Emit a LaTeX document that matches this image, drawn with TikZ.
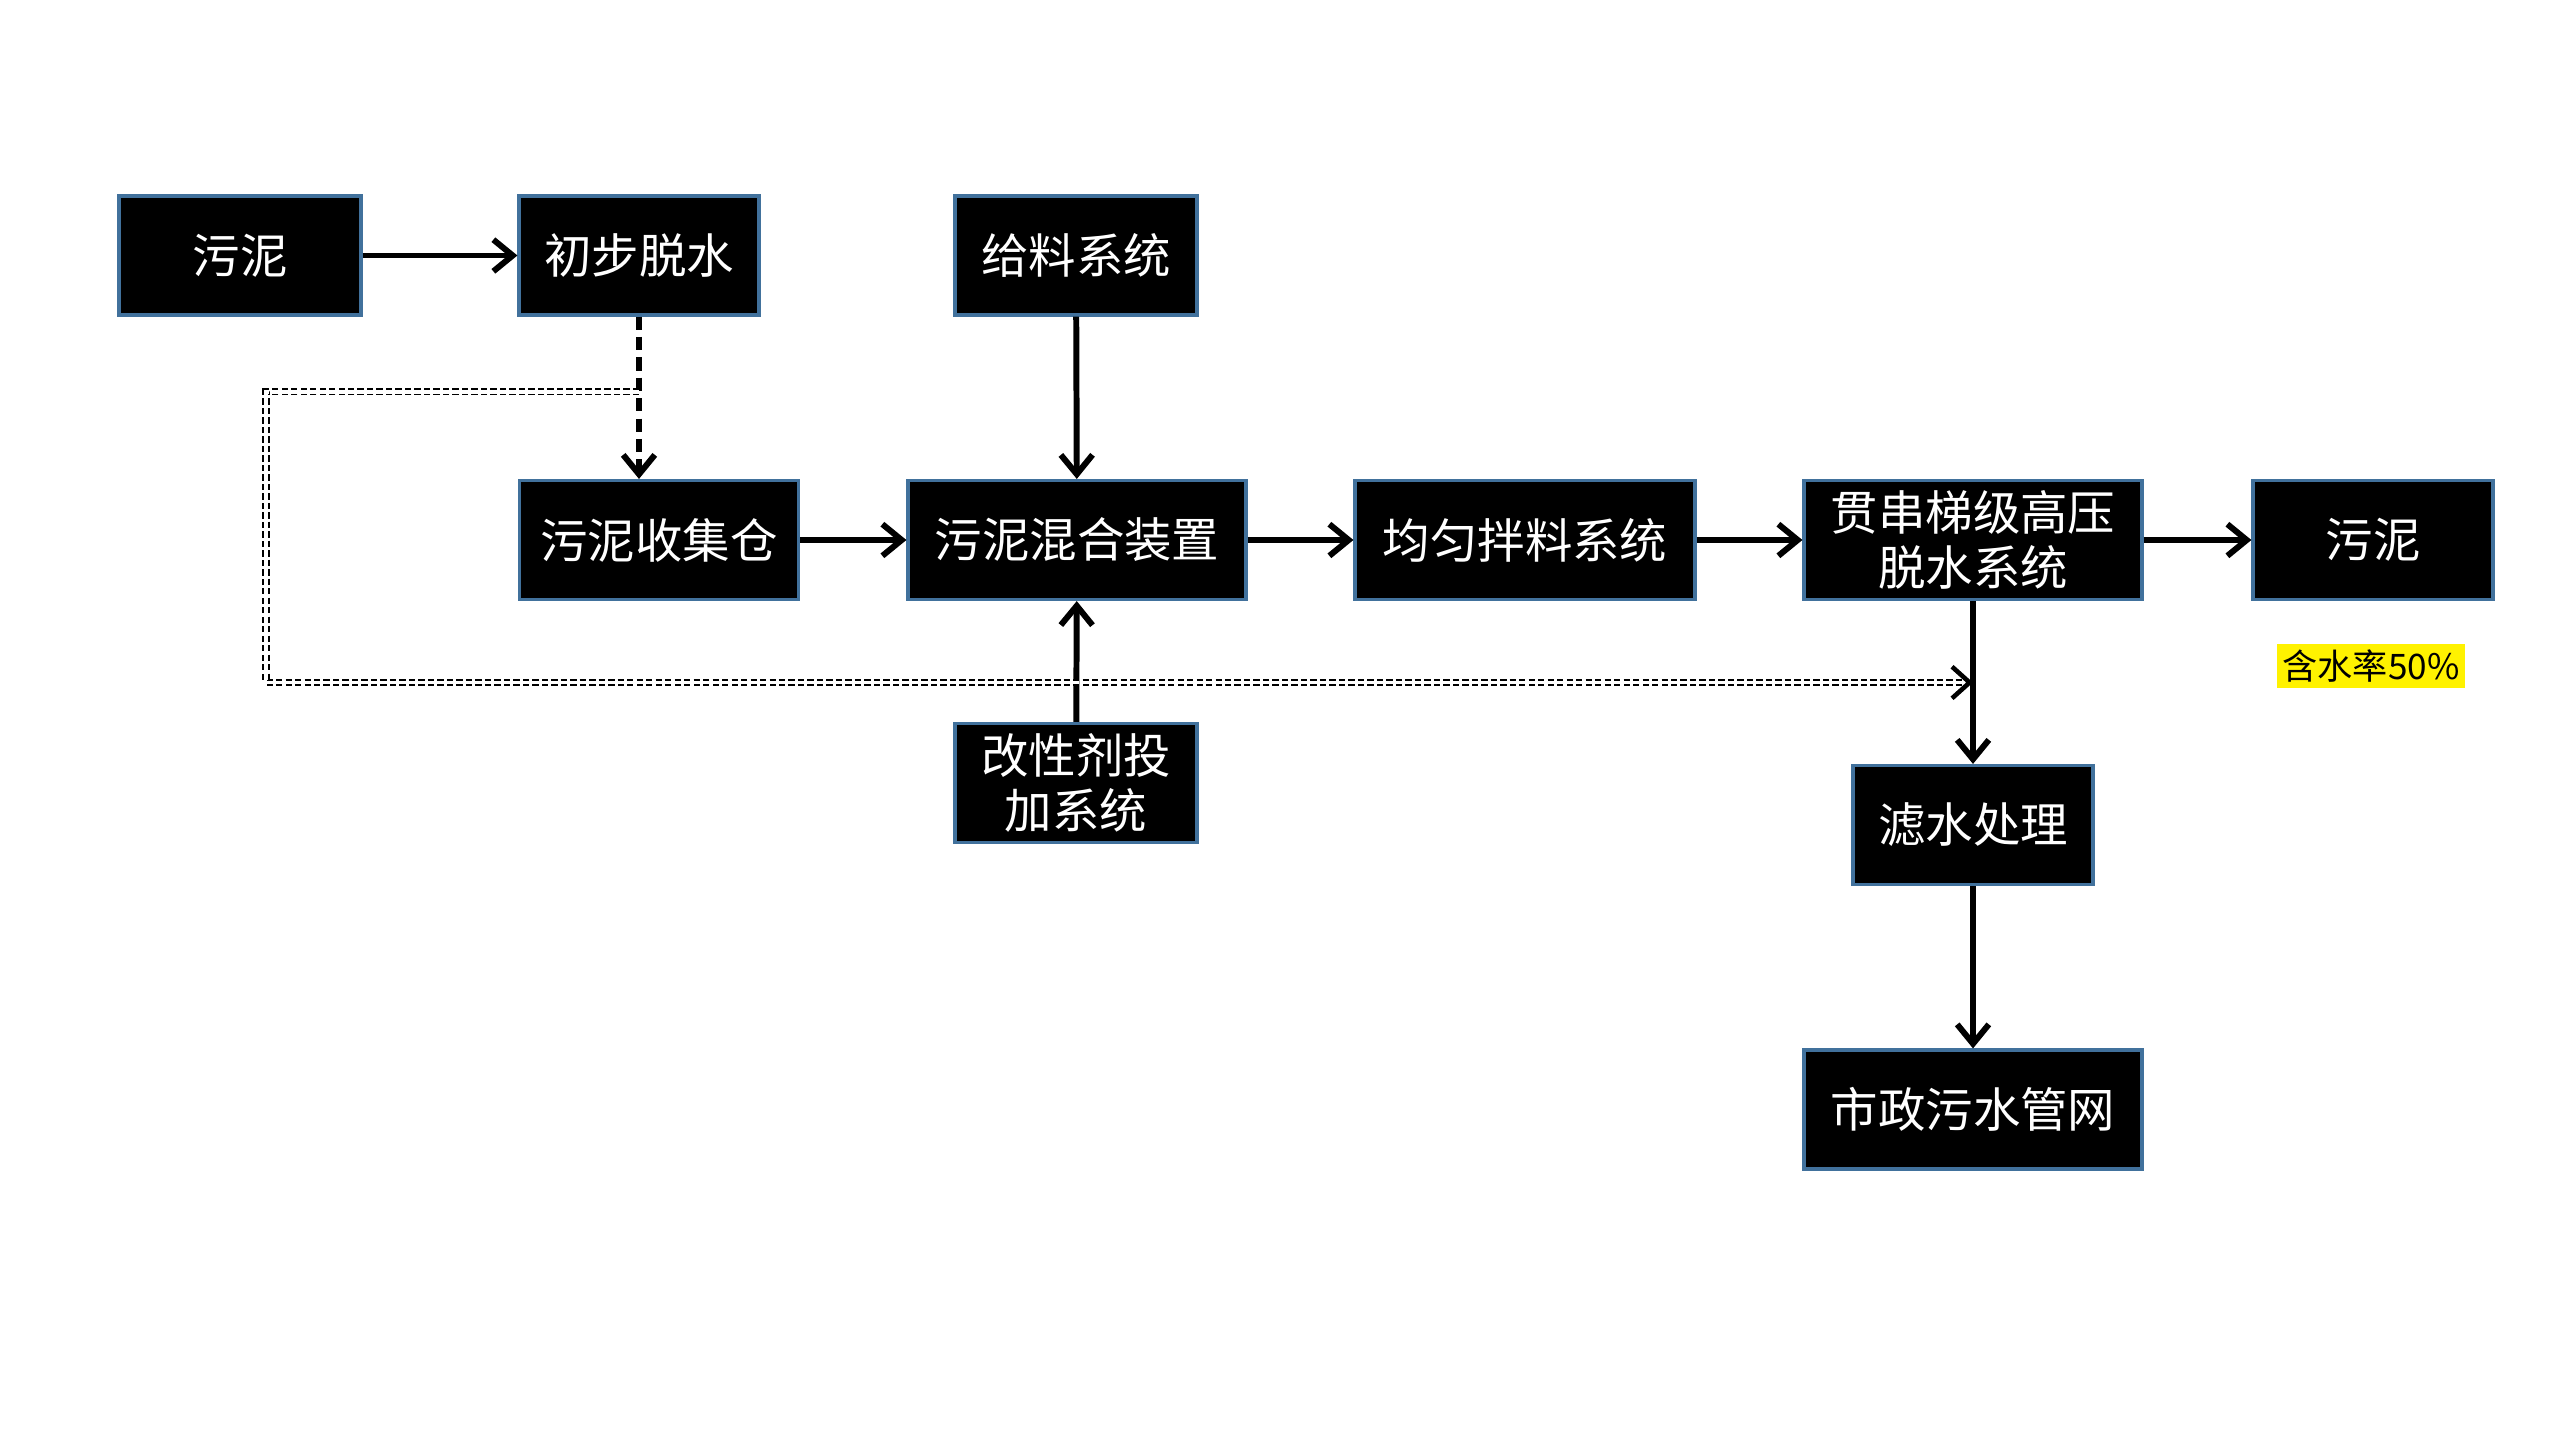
\documentclass[tikz,border=0pt]{standalone}
\usepackage{fontspec}
\newfontfamily\cjk{Noto Sans CJK SC}
\usetikzlibrary{positioning,arrows.meta}
\definecolor{boxblue}{RGB}{65,113,156}
\tikzset{%
  processbox/.style={rectangle, draw=boxblue, fill=black, text=white, line width=0.9pt, minimum height=1.19cm, inner sep=2pt, align=center, font=\cjk\fontsize{13.5}{15.5}\selectfont},
  %
  flow/.style={line width=1.7pt, -{Straight Barb[length=5.5pt,width=9pt]}},
  wetflow/.style={flow, dash pattern=on 3.8pt off 2pt},
  recycle/.style={double, double distance=1pt, line width=0.5pt, dash pattern=on 1.8pt off 0.9pt},
  note/.style={fill=yellow, text=black, inner sep=1.5pt, font=\cjk\fontsize{10}{11}\selectfont}}

\begin{document}
\begin{tikzpicture}
        \fill[white] (0,0) rectangle (25.6,-14.4);
        \useasboundingbox (0,0) rectangle (25.6,-14.4);

        %Nodes
        \node[processbox,minimum width=2.42cm] (sludge) at (2.40,-2.555) {污泥};
        \node[processbox,minimum width=2.40cm] (predry) at (6.39,-2.555) {初步脱水};
        \node[processbox,minimum width=2.42cm] (feed) at (10.76,-2.555) {给料系统};

        \node[processbox,minimum width=2.79cm] (collect) at (6.59,-5.40) {污泥收集仓};
        \node[processbox,minimum width=3.38cm] (mixer) at (10.77,-5.40) {污泥混合装置};
        \node[processbox,minimum width=3.40cm] (blend) at (15.25,-5.40) {均匀拌料系统};
        \node[processbox,minimum width=3.38cm] (press) at (19.73,-5.40) {贯串梯级高压\\脱水系统};
        \node[processbox,minimum width=2.40cm] (cake) at (23.73,-5.40) {污泥};

        \node[processbox,minimum width=2.42cm] (additive) at (10.76,-7.83) {改性剂投\\加系统};
        \node[processbox,minimum width=2.40cm] (filtrate) at (19.73,-8.25) {滤水处理};
        \node[processbox,minimum width=3.38cm] (sewer) at (19.73,-11.095) {市政污水管网};

        \node[note] (water) at (23.71,-6.66) {含水率50\%};

        \coordinate (tap) at (predry.south |- 0,-3.918);
        \coordinate (join) at (press.south |- 0,-6.825);

        %Lines
        \draw[flow] (sludge) -- (predry);
        \draw[wetflow] (predry) -- (predry.south |- collect.north);
        \draw[flow] (feed) -- (mixer);
        \draw[flow] (additive) -- (mixer);
        \draw[flow] (collect) -- (mixer);
        \draw[flow] (mixer) -- (blend);
        \draw[flow] (blend) -- (press);
        \draw[flow] (press) -- (cake);
        \draw[flow] (press) -- (filtrate);
        \draw[flow] (filtrate) -- (sewer);
        \draw[recycle, -{Straight Barb[length=5pt,width=9pt,line width=1.3pt]}] (tap) -- ++(-3.73,0) |- (join);
    \end{tikzpicture}
\end{document}
